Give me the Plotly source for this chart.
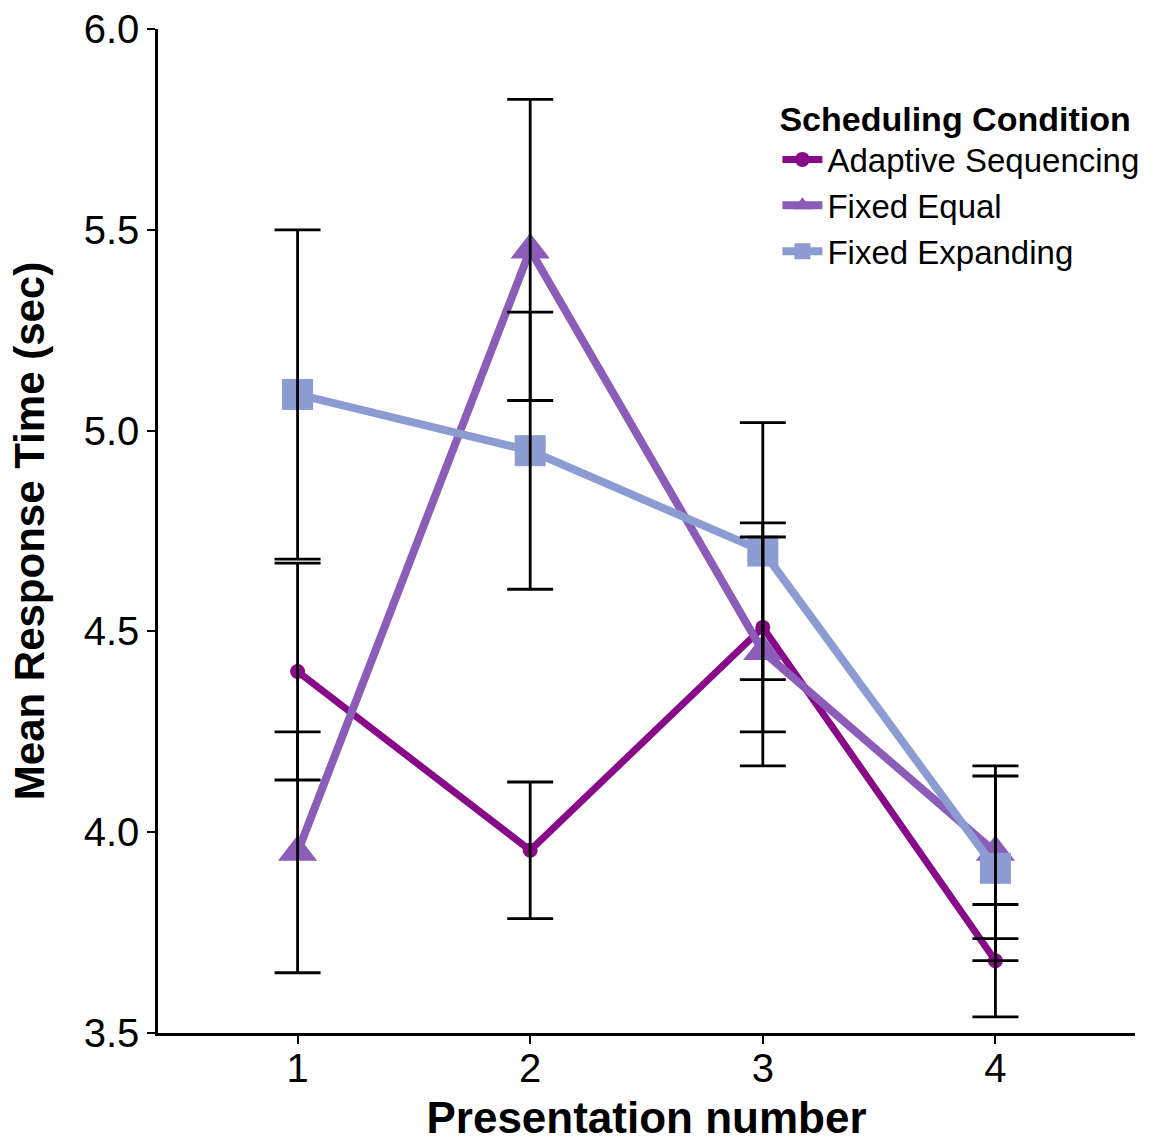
import plotly.graph_objects as go

presentation = [1, 2, 3, 4]
series_names = ["Adaptive Sequencing", "Fixed Equal", "Fixed Expanding"]
adaptive_mean = [4.40, 3.955, 4.51, 3.68]
adaptive_err = [0.27, 0.17, 0.26, 0.14]
equal_mean = [3.95, 5.45, 4.45, 3.95]
equal_err = [0.30, 0.375, 0.285, 0.215]
expanding_mean = [5.09, 4.95, 4.70, 3.91]
expanding_err = [0.41, 0.345, 0.32, 0.23]
y_ticks = [3.5, 4.0, 4.5, 5.0, 5.5, 6.0]

means = [adaptive_mean, equal_mean, expanding_mean]
errs = [adaptive_err, equal_err, expanding_err]
colors = ["#880a88", "#8b5cb8", "#8d9bd3"]
symbols = ["circle", "triangle-up", "square"]
msizes = [15, 34, 31]
lwidths = [7, 8, 8]

FONT = "Liberation Sans, Arial, sans-serif"
fig = go.Figure()

for name, m, c, s, ms, lw in zip(series_names, means, colors, symbols, msizes, lwidths):
    fig.add_trace(go.Scatter(
        x=presentation, y=m, name=name, mode="lines+markers",
        line=dict(color=c, width=lw),
        marker=dict(color=c, symbol=s, size=ms, line=dict(width=0)),
    ))

# error bars drawn on top of the markers
for name, m, e in zip(series_names, means, errs):
    fig.add_trace(go.Scatter(
        x=presentation, y=m, mode="markers", showlegend=False, hoverinfo="skip",
        marker=dict(color="rgba(0,0,0,0)", size=1),
        error_y=dict(type="data", array=e, visible=True, color="black",
                     thickness=2.8, width=23),
    ))

fig.update_layout(
    width=1164, height=1142,
    margin=dict(l=158, r=29, t=29, b=109, autoexpand=False),
    paper_bgcolor="white", plot_bgcolor="white",
    font=dict(family=FONT, color="black"),
    legend=dict(
        title=dict(text="<b>Scheduling Condition</b>", font=dict(size=34, family=FONT)),
        font=dict(size=33, family=FONT),
        x=0.634, y=0.942, xanchor="left", yanchor="top",
        bgcolor="rgba(0,0,0,0)", tracegroupgap=0, itemsizing="trace", itemwidth=40,
    ),
)
fig.update_xaxes(
    range=[0.4, 4.6], tickvals=presentation, ticktext=[str(v) for v in presentation],
    showgrid=False, zeroline=False, showline=True, linecolor="black", linewidth=2.5,
    ticks="outside", ticklen=8, tickwidth=2, tickcolor="black", automargin=False,
    tickfont=dict(size=40, family=FONT), ticklabelstandoff=-10,
    title=dict(text="<b>Presentation number</b>", font=dict(size=44, family=FONT), standoff=16),
)
fig.update_yaxes(
    range=[3.5, 6.0], tickvals=y_ticks, ticktext=[f"{v:.1f}" for v in y_ticks],
    showgrid=False, zeroline=False, showline=True, linecolor="black", linewidth=2.5,
    ticks="outside", ticklen=8, tickwidth=2, tickcolor="black", automargin=False,
    tickfont=dict(size=40, family=FONT),
    title=dict(text="<b>Mean Response Time (sec)</b>", font=dict(size=42, family=FONT), standoff=26),
)

fig.write_html("out.html")
